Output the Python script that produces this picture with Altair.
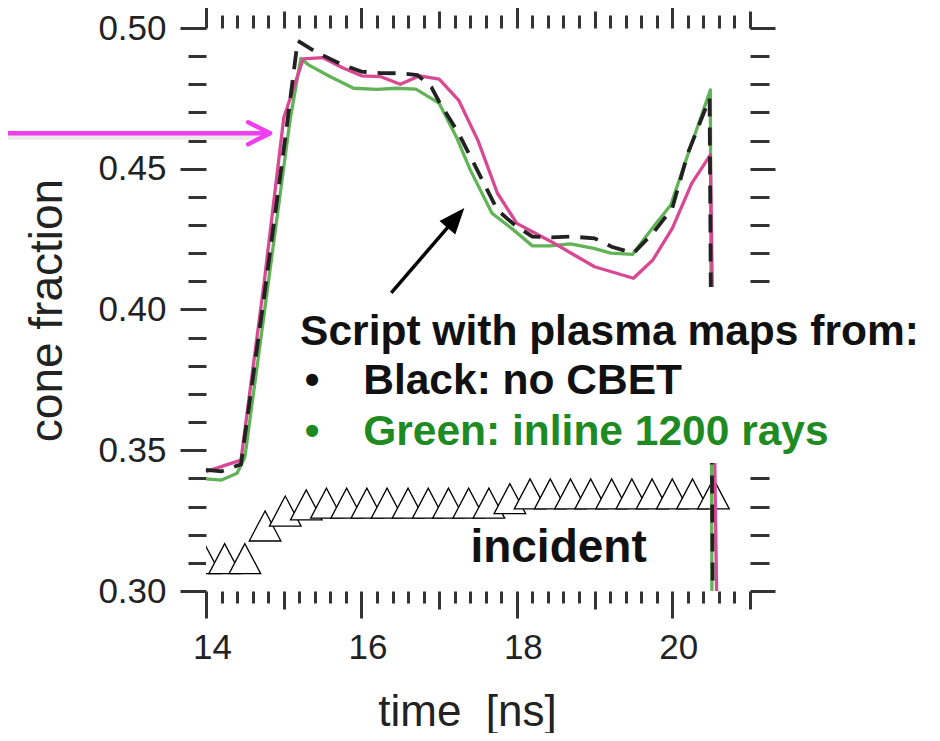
import altair as alt
import pandas as pd

# ---------------- data ----------------
# magenta (pink) curve
pink_t = [14.0, 14.45, 14.75, 15.0, 15.25, 15.5, 15.75, 16.0, 16.25, 16.5, 16.75, 17.0,
          17.25, 17.5, 17.75, 18.0, 18.2, 18.45, 18.7, 19.0, 19.5, 19.75, 20.0, 20.25,
          20.49, 20.57]
pink_v = [0.3424, 0.3465, 0.410, 0.468, 0.489, 0.4895, 0.486, 0.483, 0.4827, 0.480, 0.483,
          0.4818, 0.4744, 0.460, 0.4413, 0.4306, 0.4276, 0.424, 0.420, 0.4152, 0.4111,
          0.4176, 0.4288, 0.4448, 0.4549, 0.300]

# green curve (inline 1200 rays)
green_t = [14.0, 14.2, 14.4, 14.5, 14.78, 15.08, 15.22, 15.32, 15.6, 15.9, 16.2, 16.45,
           16.7, 17.0, 17.23, 17.4, 17.68, 17.96, 18.2, 18.43, 18.69, 18.99, 19.21, 19.49,
           19.74, 19.98, 20.2, 20.49, 20.51]
green_v = [0.3398, 0.3394, 0.3418, 0.3475, 0.405, 0.467, 0.4892, 0.4869, 0.4827, 0.4786,
           0.4782, 0.4786, 0.4783, 0.4733, 0.4608, 0.4496, 0.4342, 0.4282, 0.4226, 0.4226,
           0.4233, 0.4217, 0.420, 0.4196, 0.4288, 0.4371, 0.455, 0.478, 0.300]

# black dashed curve (no CBET)
black_t = [14.0, 14.2, 14.45, 14.75, 15.03, 15.18, 15.42, 15.75, 16.0, 16.25, 16.5, 16.72,
           16.9, 17.0, 17.25, 17.5, 17.75, 18.0, 18.2, 18.45, 18.7, 19.0, 19.22, 19.5,
           19.75, 20.0, 20.2, 20.48, 20.52]
black_v = [0.343, 0.3425, 0.345, 0.405, 0.463, 0.4955, 0.4914, 0.487, 0.4845, 0.484, 0.4839,
           0.4833, 0.479, 0.4738, 0.4626, 0.449, 0.4353, 0.4294, 0.4259, 0.4256, 0.4259,
           0.4253, 0.4223, 0.420, 0.4271, 0.436, 0.4555, 0.475, 0.300]

# incident (open triangles)
tri_t = [13.98, 14.24, 14.50, 14.76, 15.02, 15.29, 15.55, 15.81, 16.07, 16.33, 16.60, 16.86,
         17.12, 17.38, 17.64, 17.91, 18.17, 18.43, 18.69, 18.95, 19.22, 19.48, 19.74, 20.00,
         20.26, 20.53]
tri_v = [0.3115, 0.3115, 0.3115, 0.3231, 0.3284, 0.3306, 0.3312, 0.3312, 0.3312, 0.3312,
         0.3312, 0.3312, 0.3312, 0.3312, 0.3312, 0.3328, 0.3345, 0.3345, 0.3345, 0.3345,
         0.3345, 0.3345, 0.3345, 0.3345, 0.3345, 0.3345]

# axis ticks
x_major = [14, 16, 18, 20]
x_mid = [15, 17, 19, 21]
x_minor = [round(14 + 0.2 * i, 1) for i in range(36) if i % 5 != 0]
y_major = [0.30, 0.35, 0.40, 0.45, 0.50]
y_minor = [round(0.30 + 0.01 * i, 2) for i in range(21) if i % 5 != 0]

# annotations (data coordinates)
box_x = [15.08, 23.6]
box_y = [0.3455, 0.408]
parrow_t = [11.2, 14.825]
parrow_v = [0.4626]
shadow_v = [0.4614]
barrow_tail = [16.384, 0.4059]
barrow_head = [17.215, 0.43254]
barrow_angle = [40.66]
text_lines = ["Script with plasma maps from:", "Black: no CBET", "Green: inline 1200 rays", "incident"]
text_t = [15.211, 16.023, 16.023, 17.402]
text_v = [0.38739, 0.36998, 0.35187, 0.31030]
text_color = ["#111111", "#111111", "#1e8a22", "#111111"]
text_size = [42.5, 42.5, 42.5, 46]
bullet_t = [15.366, 15.366]
bullet_v = [0.36998, 0.35187]
bullet_color = ["#111111", "#1e8a22"]

# ---------------- chart ----------------
FONT = "Liberation Sans"
TICK = "#333333"
PINK = "#d84893"
GREEN = "#62b357"
MAGENTA = "#f23ef0"

xs = alt.Scale(domain=[14, 21], nice=False, zero=False)
ys = alt.Scale(domain=[0.30, 0.50], nice=False, zero=False)


def tick_axis(orient, values, size):
    return alt.Axis(orient=orient, values=values, tickSize=size, tickWidth=3, tickColor=TICK,
                    domain=False, grid=False, labels=False, title=None)


bottom_major = alt.Axis(orient="bottom", values=x_major, tickSize=27, tickWidth=3, tickColor=TICK,
                        domain=False, grid=False, format="d", labelFont=FONT, labelFontSize=35,
                        labelColor="#222222", labelPadding=12, labelOffset=6, labelFlush=False,
                        labelOverlap=False, title="time\u00a0 [ns]", titleFont=FONT,
                        titleFontSize=44, titleFontWeight="normal", titleColor="#222222",
                        titleX=261, titleY=121, titleBaseline="middle", titleAlign="center")
left_major = alt.Axis(orient="left", values=y_major, tickSize=26, tickWidth=3, tickColor=TICK,
                      domain=False, grid=False, format=".2f", labelFont=FONT, labelFontSize=35,
                      labelColor="#222222", labelPadding=14, labelOverlap=False,
                      title="cone fraction", titleFont=FONT, titleFontSize=46,
                      titleFontWeight="normal", titleColor="#222222", titleAngle=270,
                      titleX=-159, titleY=282, titleBaseline="middle", titleAlign="center")

tri_df = pd.DataFrame({"t": tri_t, "v": tri_v})
green_df = pd.DataFrame({"t": green_t, "v": green_v})
pink_df = pd.DataFrame({"t": pink_t, "v": pink_v})
black_df = pd.DataFrame({"t": black_t, "v": black_v})
box_df = pd.DataFrame({"x1": [box_x[0]], "x2": [box_x[1]], "y1": [box_y[0]], "y2": [box_y[1]]})
parrow_df = pd.DataFrame({"t1": [parrow_t[0]], "t2": [parrow_t[1]], "v": parrow_v})
shadow_df = pd.DataFrame({"t1": [parrow_t[0]], "t2": [parrow_t[1]], "v": shadow_v})
phead_df = pd.DataFrame({"t": [parrow_t[1]], "v": parrow_v})
barrow_df = pd.DataFrame({"t1": [barrow_tail[0]], "v1": [barrow_tail[1]],
                          "t2": [barrow_head[0]], "v2": [barrow_head[1]]})
bhead_df = pd.DataFrame({"t": [barrow_head[0]], "v": [barrow_head[1]], "a": barrow_angle})
text_df = pd.DataFrame({"label": text_lines, "t": text_t, "v": text_v,
                        "c": text_color, "s": text_size})
bullet_df = pd.DataFrame({"label": ["\u2022", "\u2022"], "t": bullet_t, "v": bullet_v,
                          "c": bullet_color})

tri = alt.Chart(tri_df).mark_point(
    shape="M0,-0.95L-1,0.95L1,0.95Z", size=1000, filled=True, fill="white", stroke="black",
    strokeWidth=1.3, opacity=1, clip=True
).encode(x=alt.X("t:Q", scale=xs, axis=bottom_major), y=alt.Y("v:Q", scale=ys, axis=left_major))

green = alt.Chart(green_df).mark_line(color=GREEN, strokeWidth=3.3, strokeJoin="round").encode(
    x=alt.X("t:Q", scale=xs, axis=tick_axis("bottom", x_mid, 18)),
    y=alt.Y("v:Q", scale=ys, axis=tick_axis("left", y_minor, 18)), order="t:Q")

pink = alt.Chart(pink_df).mark_line(color=PINK, strokeWidth=3.3, strokeJoin="round").encode(
    x=alt.X("t:Q", scale=xs, axis=tick_axis("bottom", x_minor, 12)),
    y=alt.Y("v:Q", scale=ys, axis=tick_axis("right", y_major, 25)), order="t:Q")

black = alt.Chart(black_df).mark_line(color="#222222", strokeWidth=3.8, strokeDash=[18, 11]).encode(
    x=alt.X("t:Q", scale=xs, axis=tick_axis("top", x_major, 22)),
    y=alt.Y("v:Q", scale=ys, axis=tick_axis("right", y_minor, 19)), order="t:Q")

box = alt.Chart(box_df).mark_rect(color="white", opacity=1).encode(
    x=alt.X("x1:Q", scale=xs, axis=tick_axis("top", x_mid, 17)), x2="x2:Q",
    y=alt.Y("y1:Q", scale=ys, axis=None), y2="y2:Q")

shadow = alt.Chart(shadow_df).mark_rule(color="#888888", strokeWidth=6, opacity=0.18).encode(
    x=alt.X("t1:Q", scale=xs, axis=None), x2="t2:Q", y=alt.Y("v:Q", scale=ys, axis=None))

parrow = alt.Chart(parrow_df).mark_rule(color=MAGENTA, strokeWidth=4.5).encode(
    x=alt.X("t1:Q", scale=xs, axis=tick_axis("top", x_minor, 13)), x2="t2:Q",
    y=alt.Y("v:Q", scale=ys, axis=None))

phead = alt.Chart(phead_df).mark_point(
    shape="M-1,-0.5L0,0L-1,0.5", size=1936, filled=False, stroke=MAGENTA, strokeWidth=4.5,
    opacity=1, strokeCap="round", strokeJoin="round"
).encode(x=alt.X("t:Q", scale=xs, axis=None), y=alt.Y("v:Q", scale=ys, axis=None))

barrow = alt.Chart(barrow_df).mark_rule(color="black", strokeWidth=3.5).encode(
    x=alt.X("t1:Q", scale=xs, axis=None), x2="t2:Q",
    y=alt.Y("v1:Q", scale=ys, axis=None), y2="v2:Q")

bhead = alt.Chart(bhead_df).mark_point(
    shape="M0,-1L-0.8,1L0.8,1Z", size=676, filled=True, color="black", opacity=1
).encode(x=alt.X("t:Q", scale=xs, axis=None), y=alt.Y("v:Q", scale=ys, axis=None),
         angle=alt.Angle("a:Q", scale=None))

texts = alt.Chart(text_df).mark_text(
    align="left", baseline="alphabetic", font=FONT, fontWeight="bold"
).encode(x=alt.X("t:Q", scale=xs, axis=None), y=alt.Y("v:Q", scale=ys, axis=None),
         text="label:N", color=alt.Color("c:N", scale=None), size=alt.Size("s:Q", scale=None))

bullets = alt.Chart(bullet_df).mark_text(
    align="center", baseline="alphabetic", font=FONT, fontWeight="bold", fontSize=42
).encode(x=alt.X("t:Q", scale=xs, axis=None), y=alt.Y("v:Q", scale=ys, axis=None),
         text="label:N", color=alt.Color("c:N", scale=None))

chart = alt.layer(
    tri, green, pink, black, box, shadow, parrow, phead, barrow, bhead, texts, bullets
).resolve_axis(x="independent", y="independent").properties(
    width=544, height=563,
    autosize=alt.AutoSizeParams(type="none"),
    padding={"left": 198, "top": 20, "right": 182, "bottom": 142},
    background="white",
).configure_view(strokeWidth=0)

chart.save("out.html", embed_options={"renderer": "svg", "actions": False})
